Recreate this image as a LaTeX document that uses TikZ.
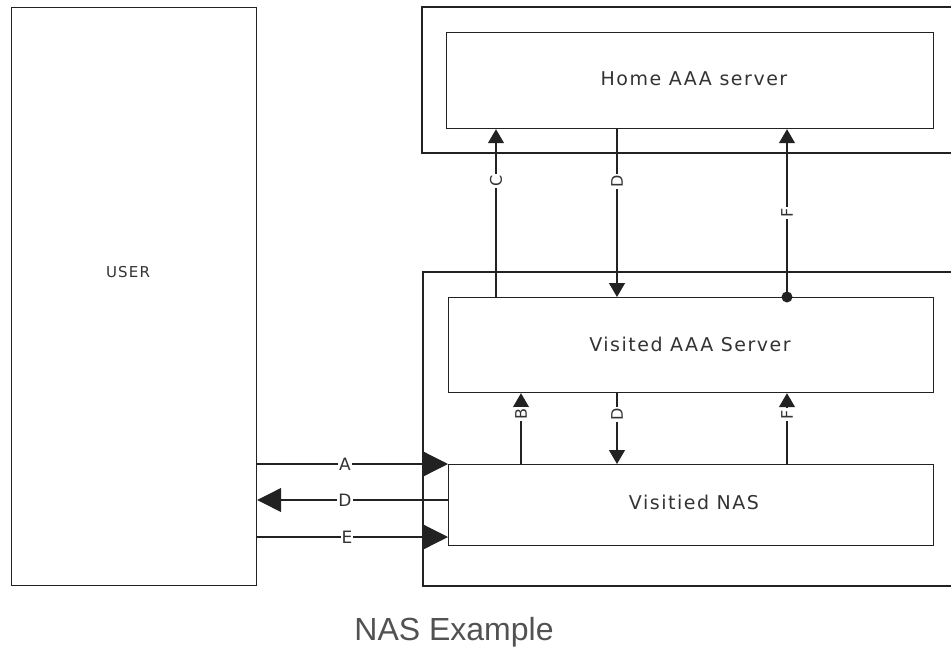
\documentclass[tikz,border=0pt]{standalone}
\usepackage{fontspec}
\setmainfont{DejaVu Sans}
\newfontfamily\boxfont[LetterSpace=8]{DejaVu Sans}
\newfontfamily\capfont{Liberation Sans}
\usetikzlibrary{arrows.meta,calc}
\definecolor{ink}{HTML}{222222}
\definecolor{txt}{HTML}{333333}
\begin{document}
\begin{tikzpicture}[x=1pt,y=-1pt,
  line width=1.2pt,
  frame/.style={draw=ink},
  boxnode/.style={draw=ink,anchor=north west,inner sep=0pt},
  boxtext/.style={text=txt,font=\boxfont\fontsize{19}{19}\selectfont},
  bigarrow/.style={draw=ink,-{Triangle[length=24pt,width=24pt]}},
  smallarrow/.style={draw=ink,-{Triangle[length=14pt,width=16pt]}},
  hlabel/.style={fill=white,inner sep=1pt,font=\fontsize{17}{17}\selectfont,text=txt},
  vlabel/.style={fill=white,inner sep=1.5pt,rotate=90,font=\fontsize{16}{16}\selectfont,text=txt}]
\useasboundingbox (0,0) rectangle (951,649);
% boxes
\node[boxnode,minimum width=245pt,minimum height=578pt] (user) at (11,7) {};
\node[text=txt,font=\boxfont\fontsize{15}{15}\selectfont] (usertext) at (128,272) {USER};
\node[boxnode,minimum width=487pt,minimum height=96pt] (home) at (446,32) {};
\node[boxtext] (hometext) at (694,79) {Home AAA server};
\node[boxnode,minimum width=485pt,minimum height=95pt] (vaaa) at (448,297) {};
\node[boxtext] (vaaatext) at (690,344) {Visited AAA Server};
\node[boxnode,minimum width=485pt,minimum height=81pt] (nas) at (448,464) {};
\node[boxtext] (nastext) at (694,502) {Visitied NAS};
% open outer frames
\draw[frame] (951,7) -| (422,153) -- (951,153);
\draw[frame] (951,272) -| (423,586) -- (951,586);
% column positions
\coordinate (cx) at (496,0);
\coordinate (dx) at (617,0);
\coordinate (fx) at (787,0);
\coordinate (bx) at (521,0);
\coordinate (ay) at (0,464);
\coordinate (dy) at (0,500);
\coordinate (ey) at (0,537);
% upper connectors
\draw[smallarrow] (vaaa.north -| cx) -- node[vlabel,pos=0.69] {C} (home.south -| cx);
\draw[smallarrow] (home.south -| dx) -- node[vlabel,pos=0.31] {D} (vaaa.north -| dx);
\draw[smallarrow] (vaaa.north -| fx) -- node[vlabel,pos=0.5] {F} (home.south -| fx);
\fill[ink] (vaaa.north -| fx) circle (5.5pt);
% lower connectors
\draw[smallarrow] (nas.north -| bx) -- node[vlabel,pos=0.7] {B} (vaaa.south -| bx);
\draw[smallarrow] (vaaa.south -| dx) -- node[vlabel,pos=0.3] {D} (nas.north -| dx);
\draw[smallarrow] (nas.north -| fx) -- node[vlabel,pos=0.7] {F} (vaaa.south -| fx);
% user <-> nas
\draw[bigarrow] (user.east |- ay) -- node[hlabel,pos=0.46] {A} (nas.west |- ay);
\draw[bigarrow] (nas.west |- dy) -- node[hlabel,pos=0.54] {D} (user.east |- dy);
\draw[bigarrow] (user.east |- ey) -- node[hlabel,pos=0.47] {E} (nas.west |- ey);
% caption
\node[text=txt!85,font=\capfont\fontsize{32}{32}\selectfont] (caption) at (454,632) {NAS Example};
\end{tikzpicture}
\end{document}
